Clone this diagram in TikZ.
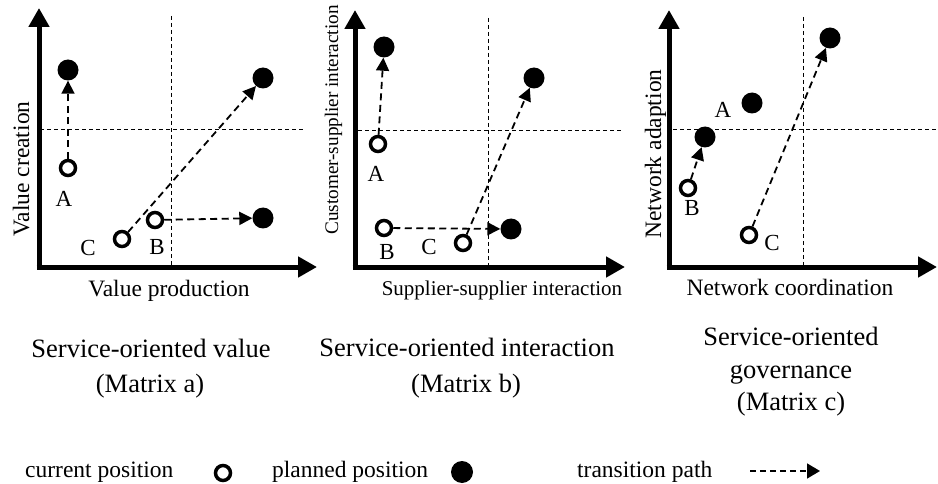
\documentclass[tikz,border=0pt]{standalone}
\usepackage{fontspec}
\setmainfont{Liberation Serif}
\usetikzlibrary{arrows.meta}
\begin{document}
\begin{tikzpicture}[x=1pt,y=-1pt,
  axis/.style={line width=5pt,-{Triangle[length=19pt,width=20pt]}},
  quad/.style={line width=0.9pt,dash pattern=on 4pt off 3pt},
  move/.style={line width=1.8pt,dash pattern=on 7pt off 4.5pt,-{Triangle[length=13pt,width=13pt]}},
  cur/.style={circle,draw=black,line width=3.5pt,fill=white,minimum size=15pt,inner sep=0pt},
  plan/.style={circle,fill=black,minimum size=21pt,inner sep=0pt},
  ptlab/.style={font=\fontsize{23}{27}\selectfont,inner sep=0pt},
  axlab/.style={font=\fontsize{23.5}{28}\selectfont,inner sep=0pt,anchor=base},
  captext/.style={font=\fontsize{26.5}{32}\selectfont,inner sep=0pt,anchor=base},
  leg/.style={font=\fontsize{23.5}{28}\selectfont,inner sep=0pt,anchor=base west}
]
\useasboundingbox (0,0) rectangle (938,484);

% ---------- Matrix a ----------
\coordinate (aO) at (39,267);
\coordinate (aOx) at (36.5,267);
\coordinate (aY) at (39,8);
\coordinate (aX) at (317,267);
\coordinate (aV1) at (171,16);
\coordinate (aV2) at (171,267);
\coordinate (aH1) at (40,129);
\coordinate (aH2) at (305,129);
\draw[quad] (aV1) -- (aV2);
\draw[quad] (aH1) -- (aH2);
\draw[axis] (aO) -- (aY);
\draw[axis] (aOx) -- (aX);

\node[plan] (aAp) at (68,70) {};
\node[plan] (aCp) at (263,78) {};
\node[plan] (aBp) at (263,218) {};
\node[cur] (aAc) at (68,168) {};
\node[cur] (aBc) at (155,220) {};
\node[cur] (aCc) at (122,239) {};
\draw[move] (aAc) -- (aAp);
\draw[move] (aBc) -- (aBp);
\draw[move] (aCc) -- (aCp);
\node[ptlab] (aAl) at (64,199) {A};
\node[ptlab] (aCl) at (88,248) {C};
\node[ptlab] (aBl) at (157,247) {B};
\node[axlab] (aXl) at (169,296) {Value production};
\node[axlab,rotate=90] (aYl) at (29,169) {Value creation};
\node[captext] (aT1) at (151,357) {Service-oriented value};
\node[captext] (aT2) at (150,392) {(Matrix a)};

% ---------- Matrix b ----------
\coordinate (bO) at (355,267);
\coordinate (bOx) at (352.5,267);
\coordinate (bY) at (355,10);
\coordinate (bX) at (625,267);
\coordinate (bV1) at (488,18);
\coordinate (bV2) at (488,267);
\coordinate (bH1) at (358,130);
\coordinate (bH2) at (622,130);
\draw[quad] (bV1) -- (bV2);
\draw[quad] (bH1) -- (bH2);
\draw[axis] (bO) -- (bY);
\draw[axis] (bOx) -- (bX);

\node[plan] (bAp) at (384,47) {};
\node[plan] (bCp) at (534,78) {};
\node[plan] (bBp) at (511,229) {};
\node[cur] (bAc) at (378,144) {};
\node[cur] (bBc) at (384,228) {};
\node[cur] (bCc) at (463,243) {};
\draw[move] (bAc) -- (bAp);
\draw[move] (bBc) -- (bBp);
\draw[move] (bCc) -- (bCp);
\node[ptlab] (bAl) at (376,174) {A};
\node[ptlab] (bBl) at (387,252) {B};
\node[ptlab] (bCl) at (429,247) {C};
\node[axlab,font=\fontsize{21}{25}\selectfont] (bXl) at (502,295) {Supplier-supplier interaction};
\node[axlab,rotate=90,font=\fontsize{19.2}{23}\selectfont] (bYl) at (338,120) {Customer-supplier interaction};
\node[captext] (bT1) at (467,356) {Service-oriented interaction};
\node[captext] (bT2) at (466,392) {(Matrix b)};

% ---------- Matrix c ----------
\coordinate (cO) at (669,267);
\coordinate (cOx) at (666.5,267);
\coordinate (cY) at (669,10);
\coordinate (cX) at (937,267);
\coordinate (cV1) at (803,17);
\coordinate (cV2) at (803,267);
\coordinate (cH1) at (673,129);
\coordinate (cH2) at (938,129);
\draw[quad] (cV1) -- (cV2);
\draw[quad] (cH1) -- (cH2);
\draw[axis] (cO) -- (cY);
\draw[axis] (cOx) -- (cX);

\node[plan] (cAp) at (752,103) {};
\node[plan] (cBp) at (705,137) {};
\node[plan] (cCp) at (830,38) {};
\node[cur] (cBc) at (688,188) {};
\node[cur] (cCc) at (749,235) {};
\draw[move] (cBc) -- (cBp);
\draw[move] (cCc) -- (cCp);
\node[ptlab] (cAl) at (723,110) {A};
\node[ptlab] (cBl) at (692,208) {B};
\node[ptlab] (cCl) at (772,243) {C};
\node[axlab] (cXl) at (790,295) {Network coordination};
\node[axlab,rotate=90] (cYl) at (661,154) {Network adaption};
\node[captext] (cT1) at (791,345) {Service-oriented};
\node[captext] (cT2) at (791,378) {governance};
\node[captext] (cT3) at (791,410) {(Matrix c)};

% ---------- Legend ----------
\node[leg] (lCur) at (25,477) {current position};
\node[cur] (lCurS) at (223,473) {};
\node[leg] (lPlan) at (272,477) {planned position};
\node[plan,minimum size=22pt] (lPlanS) at (462,472) {};
\node[leg] (lPath) at (577,477) {transition path};
\coordinate (lA1) at (750,471);
\coordinate (lA2) at (820,471);
\draw[move,line width=1.6pt,dash pattern=on 6pt off 4pt,-{Triangle[length=13pt,width=15pt]}] (lA1) -- (lA2);
\end{tikzpicture}
\end{document}
